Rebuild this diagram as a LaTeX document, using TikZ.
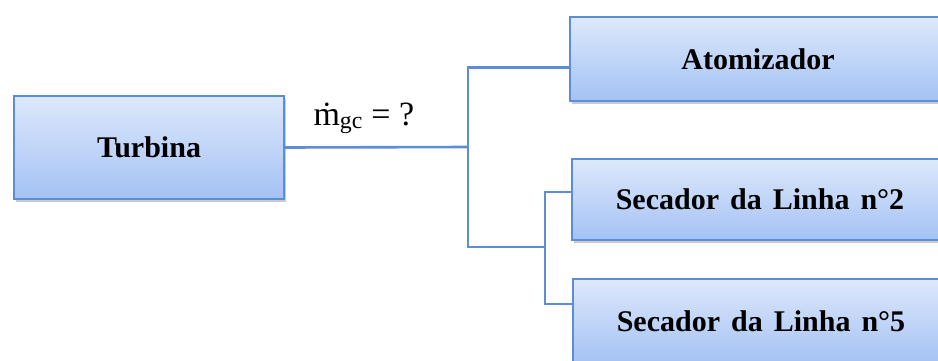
\documentclass[tikz,border=0pt]{standalone}
\usepackage{fontspec}
\setmainfont{Liberation Serif}
\usetikzlibrary{shadows}
\definecolor{edgeblue}{HTML}{5B8ED6}
\definecolor{boxtop}{HTML}{DDE8FB}
\definecolor{boxbot}{HTML}{A4C2F4}
\newcommand{\wsp}{\hspace{11pt}}
\tikzset{
  unitbox/.style={draw=edgeblue, line width=2pt, top color=boxtop, bottom color=boxbot,
    drop shadow={shadow xshift=2pt, shadow yshift=-3pt, opacity=0.35, fill=black!60},
    font=\fontsize{30}{34}\selectfont\bfseries, inner sep=0pt, anchor=north west},
  link/.style={draw=edgeblue, line width=2.6pt}
}
\begin{document}
\begin{tikzpicture}[x=1pt, y=-1pt]
  \useasboundingbox (0,0) rectangle (938,360);
  % boxes
  \node[unitbox, minimum width=270pt, minimum height=103pt] (turb) at (13,95) {Turbina};
  \node[unitbox, minimum width=376pt, minimum height=84pt] (atom) at (569,16) {Atomizador};
  \node[unitbox, minimum width=376pt, minimum height=81pt] (sec2) at (571,158)
    {Secador\wsp da\wsp Linha\wsp n°2};
  \node[unitbox, minimum width=376pt, minimum height=84pt] (sec5) at (572,278)
    {Secador\wsp da\wsp Linha\wsp n°5};
  % junctions of the branch lines
  \coordinate (j1) at (468,147);
  \coordinate (j2) at (545,247);
  % connectors
  \draw[link] (turb.east) -- (j1);
  \draw[link] ([yshift=-8.5pt]atom.west) -| (j1) |- (j2);
  \draw[link] ([yshift=7.5pt]sec2.west) -| (j2);
  \draw[link] ([yshift=17pt]sec5.west) -| (j2);
  % flow label
  \node[font=\fontsize{34}{36}\selectfont, anchor=base west] (lbl) at (310,125)
    {{\.m}\textsubscript{gc} = ?};
\end{tikzpicture}
\end{document}
